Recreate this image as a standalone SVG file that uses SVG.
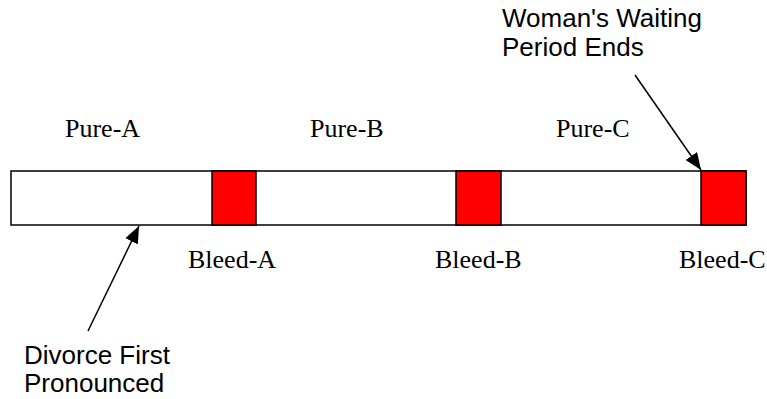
<svg xmlns="http://www.w3.org/2000/svg" width="767" height="399" viewBox="0 0 767 399">
<defs>
<style>
.serif{font-family:"Liberation Serif","Times New Roman",serif;font-size:26px;fill:#000}
.sans{font-family:"Liberation Sans",Arial,sans-serif;font-size:26px;fill:#000}
.bar{fill:#fff;stroke:#000;stroke-width:1.5}
.bleed{fill:#ff0000;stroke:#000;stroke-width:1.5}
.conn{stroke:#000;stroke-width:1.5;fill:none;marker-end:url(#ah)}
</style>
<marker id="ah" viewBox="0 0 17 14" refX="17" refY="7" markerWidth="17" markerHeight="14" markerUnits="userSpaceOnUse" orient="auto">
<path d="M0,0 L17,7 L0,14 Z" fill="#000"/>
</marker>
</defs>
<rect width="767" height="399" fill="#fff"/>
<g id="timeline">
<rect class="bar" x="11" y="171" width="735" height="54"/>
</g>
<g id="bleed-a"><rect class="bleed" x="212" y="171" width="44" height="54"/><text class="serif" x="188" y="268">Bleed-A</text></g>
<g id="bleed-b"><rect class="bleed" x="456" y="171" width="45" height="54"/><text class="serif" x="435" y="268">Bleed-B</text></g>
<g id="bleed-c"><rect class="bleed" x="701" y="171" width="45" height="54"/><text class="serif" x="679" y="268">Bleed-C</text></g>
<g id="pure-a"><text class="serif" x="65" y="137">Pure-A</text></g>
<g id="pure-b"><text class="serif" x="310" y="137">Pure-B</text></g>
<g id="pure-c"><text class="serif" x="556" y="137">Pure-C</text></g>
<g id="waiting-ends"><text class="sans" x="502" y="27">Woman's Waiting</text><text class="sans" x="502" y="56">Period Ends</text></g>
<g id="divorce-first"><text class="sans" x="24" y="364">Divorce First</text><text class="sans" x="24" y="392">Pronounced</text></g>
<g id="connectors">
<line class="conn" x1="88" y1="331" x2="139" y2="226"/>
<line class="conn" x1="635" y1="75" x2="701" y2="170"/>
</g>
</svg>
